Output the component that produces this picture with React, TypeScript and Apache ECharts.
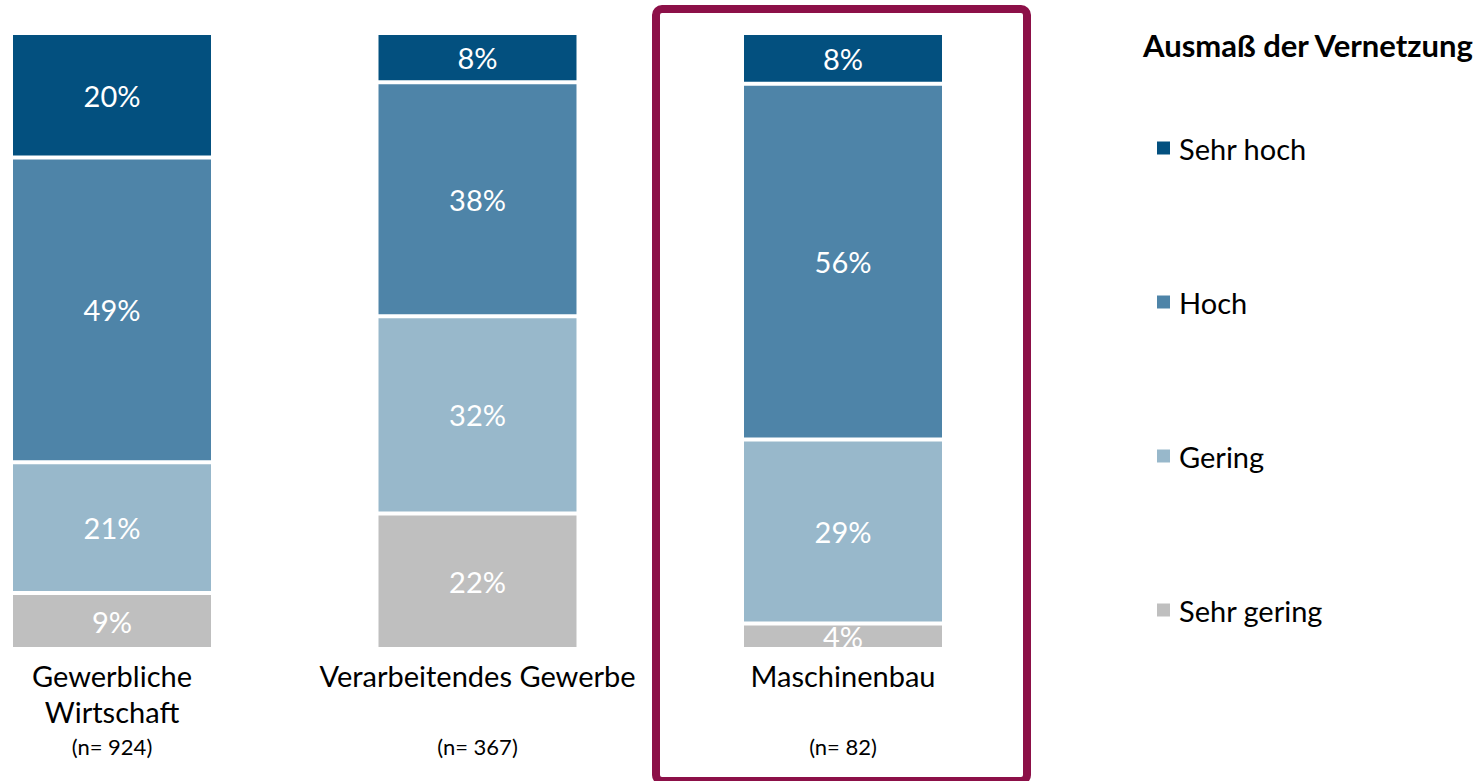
import React, { useEffect, useRef } from "react";
import * as echarts from "echarts";

const categories = ["Gewerbliche\nWirtschaft", "Verarbeitendes Gewerbe", "Maschinenbau"];
const sampleSizes = ["(n= 924)", "(n= 367)", "(n= 82)"];
const levelNames = ["Sehr gering", "Gering", "Hoch", "Sehr hoch"];
const sehrGering = [9, 22, 4];
const gering = [21, 32, 29];
const hoch = [49, 38, 56];
const sehrHoch = [20, 8, 8];
const levelColors = ["#BFBFBF", "#98B8CB", "#4E84A8", "#03507F"];
const legendTitle = "Ausmaß der Vernetzung";

const FONT = "Lato";

export default function App() {
  const ref = useRef<HTMLDivElement>(null);
  useEffect(() => {
    if (!ref.current) return;
    const chart = echarts.init(ref.current, undefined, { renderer: "svg" });
    const raw = [sehrGering, gering, hoch, sehrHoch];
    const totals = categories.map((_, i) => raw.reduce((s, arr) => s + arr[i], 0));
    const series = raw.map((arr, k) => ({
      name: levelNames[k],
      type: "bar",
      stack: "total",
      barWidth: 202,
      data: arr.map((v, i) => ({ value: (v / totals[i]) * 100, raw: v })),
      itemStyle: { color: levelColors[k], borderColor: "#ffffff", borderWidth: 2 },
      label: {
        show: true,
        position: "inside",
        color: "#ffffff",
        fontFamily: FONT,
        fontSize: 29,
        formatter: (p: any) => `${p.data.raw}%`,
      },
    }));
    chart.setOption({
      animation: false,
      title: {
        text: legendTitle,
        left: 1138,
        top: 24,
        textStyle: { fontFamily: FONT, fontSize: 31, fontWeight: "bold", color: "#000" },
      },
      legend: {
        orient: "vertical",
        left: 1155,
        top: 133,
        padding: 0,
        itemWidth: 15,
        itemHeight: 15,
        itemGap: 124,
        icon: "rect",
        data: [...levelNames].reverse(),
        textStyle: { fontFamily: FONT, fontSize: 29, color: "#000", lineHeight: 30, padding: [0, 0, 0, 3] },
      },
      grid: {
        left: -70.75,
        width: 1096.5,
        top: 33,
        bottom: 132,
        containLabel: false,
        outerBoundsMode: "none",
      },
      xAxis: [
        {
          type: "category",
          data: categories,
          axisLine: { show: false },
          axisTick: { show: false },
          axisLabel: {
            fontFamily: FONT,
            fontSize: 29,
            color: "#000",
            lineHeight: 36,
            margin: 8,
            verticalAlign: "top",
            interval: 0,
          },
        },
        {
          type: "category",
          position: "bottom",
          data: sampleSizes,
          offset: 74,
          axisLine: { show: false },
          axisTick: { show: false },
          axisLabel: {
            fontFamily: FONT,
            fontSize: 22,
            color: "#000",
            lineHeight: 24,
            margin: 11,
            verticalAlign: "top",
            interval: 0,
          },
        },
      ],
      yAxis: { type: "value", min: 0, max: 100, show: false },
      graphic: [
        {
          type: "rect",
          shape: { x: 656, y: 9, width: 371, height: 772, r: 6 },
          style: { fill: "none", stroke: "#8C1048", lineWidth: 8 },
          z: 10,
        },
      ],
      series,
    });
    return () => chart.dispose();
  }, []);
  return (
    <div
      ref={ref}
      style={{ position: "fixed", left: 0, top: 0, width: 1483, height: 781, background: "#fff" }}
    />
  );
}
